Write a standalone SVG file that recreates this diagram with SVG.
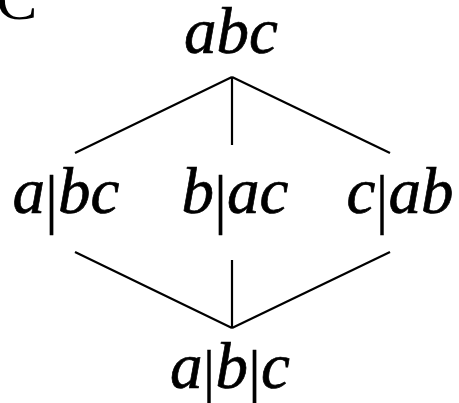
<svg xmlns="http://www.w3.org/2000/svg" width="459" height="403" viewBox="0 0 459 403">
<style>
.t{font-family:"Liberation Serif","Times New Roman",serif;font-style:italic;font-size:65px;fill:#000;stroke:#000;stroke-width:0.7;text-anchor:middle}
.bar{font-style:normal;stroke-width:0.3}
.e{stroke:#000;stroke-width:2.2;fill:none;stroke-linecap:butt}
</style>
<rect width="459" height="403" fill="#fff"/>
<text x="-4" y="19" font-family="Liberation Serif, serif" font-size="62" fill="#000">C</text>
<g id="connectors">
<line class="e" x1="232" y1="77" x2="75" y2="153"/>
<line class="e" x1="232" y1="77" x2="232" y2="145"/>
<line class="e" x1="232" y1="77" x2="390" y2="153"/>
<line class="e" x1="75" y1="252" x2="232" y2="328"/>
<line class="e" x1="232" y1="260" x2="232" y2="328"/>
<line class="e" x1="390" y1="252" x2="232" y2="328"/>
</g>
<g id="n-abc"><text class="t" x="231" y="53">abc</text></g>
<g id="n-a-bc"><text class="t" x="66" y="213">a<tspan class="bar" dy="8">|</tspan><tspan dy="-8">bc</tspan></text></g>
<g id="n-b-ac"><text class="t" x="235" y="213">b<tspan class="bar" dy="8">|</tspan><tspan dy="-8">ac</tspan></text></g>
<g id="n-c-ab"><text class="t" x="400" y="213">c<tspan class="bar" dy="8">|</tspan><tspan dy="-8">ab</tspan></text></g>
<g id="n-a-b-c"><text class="t" x="230" y="388">a<tspan class="bar" dy="8">|</tspan><tspan dy="-8">b</tspan><tspan class="bar" dy="8">|</tspan><tspan dy="-8">c</tspan></text></g>
</svg>
